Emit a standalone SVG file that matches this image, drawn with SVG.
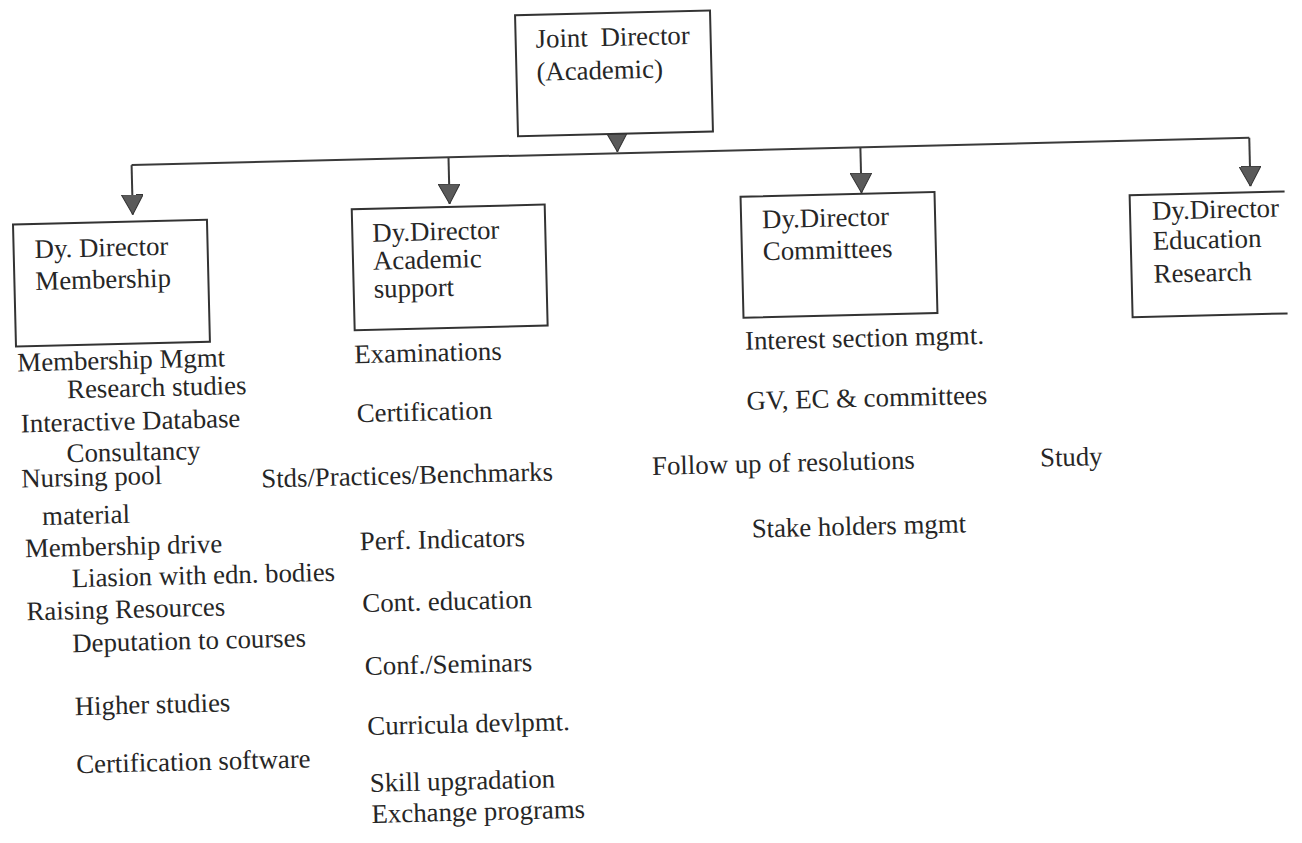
<svg xmlns="http://www.w3.org/2000/svg" width="1302" height="843" viewBox="0 0 1302 843">
  <defs>
    <!-- filled triangle drawn along +x so orient="auto" turns it with the line -->
    <marker id="arrow" viewBox="0 0 20 22" refX="20" refY="11" markerWidth="20" markerHeight="22" markerUnits="userSpaceOnUse" orient="auto">
      <path d="M0,0 L20,11 L0,22 Z" fill="#5a5a5a" stroke="#333" stroke-width="1"/>
    </marker>
  </defs>
  <style>
    .box { fill: #fff; stroke: #333; stroke-width: 2; }
    .link { fill: none; stroke: #3a3a3a; stroke-width: 2; }
    text { font-family: "Liberation Serif", "Times New Roman", "DejaVu Serif", serif; font-size: 26.8px; fill: #262626; }
  </style>
  <rect width="1302" height="843" fill="#fff"/>

  <g transform="rotate(-1.4 651 421)">
    <!-- connectors -->
    <g id="connectors">
      <path class="link" d="M624,133 V151" marker-end="url(#arrow)"/>
      <path class="link" d="M138,152.5 H1256"/>
      <path class="link" d="M138,152.5 V202" marker-end="url(#arrow)"/>
      <path class="link" d="M455,152.5 V199" marker-end="url(#arrow)"/>
      <path class="link" d="M867,152.5 V198" marker-end="url(#arrow)"/>
      <path class="link" d="M1256,152.5 V201" marker-end="url(#arrow)"/>
    </g>

    <g id="joint-director">
      <rect class="box" x="525" y="12" width="195" height="121"/>
      <text x="545" y="45" word-spacing="6">Joint Director</text>
      <text x="545" y="78">(Academic)</text>
    </g>

    <g id="dd-membership">
      <rect class="box" x="18" y="209" width="194" height="122"/>
      <text x="39" y="243">Dy. Director</text>
      <text x="39" y="275">Membership</text>
    </g>

    <g id="dd-academic">
      <rect class="box" x="357" y="202" width="193" height="121"/>
      <text x="377" y="235">Dy.Director</text>
      <text x="377" y="263">Academic</text>
      <text x="377" y="291">support</text>
    </g>

    <g id="dd-committees">
      <rect class="box" x="746" y="199" width="194" height="121"/>
      <text x="767" y="231">Dy.Director</text>
      <text x="767" y="263">Committees</text>
    </g>

    <g id="dd-education">
      <path class="box" d="M1290,207 H1135 V329 H1290"/>
      <text x="1157" y="232">Dy.Director</text>
      <text x="1157" y="262">Education</text>
      <text x="1157" y="295">Research</text>
    </g>

    <!-- duties under Membership -->
    <g id="membership-items">
      <text x="19" y="356">Membership Mgmt</text>
      <text x="68" y="384">Research studies</text>
      <text x="21" y="417">Interactive Database</text>
      <text x="66" y="448">Consultancy</text>
      <text x="20" y="472">Nursing pool</text>
      <text x="40" y="510">material</text>
      <text x="22" y="542">Membership drive</text>
      <text x="68" y="573">Liasion with edn. bodies</text>
      <text x="22" y="605">Raising Resources</text>
      <text x="67" y="638">Deputation to courses</text>
      <text x="68" y="701">Higher studies</text>
      <text x="68" y="759">Certification software</text>
    </g>

    <!-- duties under Academic support -->
    <g id="academic-items">
      <text x="356" y="356">Examinations</text>
      <text x="357" y="415">Certification</text>
      <text x="260" y="478">Stds/Practices/Benchmarks</text>
      <text x="357" y="543">Perf. Indicators</text>
      <text x="358" y="605">Cont. education</text>
      <text x="359" y="668">Conf./Seminars</text>
      <text x="360" y="728">Curricula devlpmt.</text>
      <text x="361" y="785">Skill upgradation</text>
      <text x="362" y="816">Exchange programs</text>
    </g>

    <!-- duties under Committees -->
    <g id="committee-items">
      <text x="747" y="352">Interest section mgmt.</text>
      <text x="747" y="412">GV, EC &amp; committees</text>
      <text x="651" y="475">Follow up of resolutions</text>
      <text x="749" y="540">Stake holders mgmt</text>
    </g>

    <!-- duties under Education Research -->
    <g id="education-items">
      <text x="1039" y="476">Study</text>
    </g>
  </g>
</svg>
